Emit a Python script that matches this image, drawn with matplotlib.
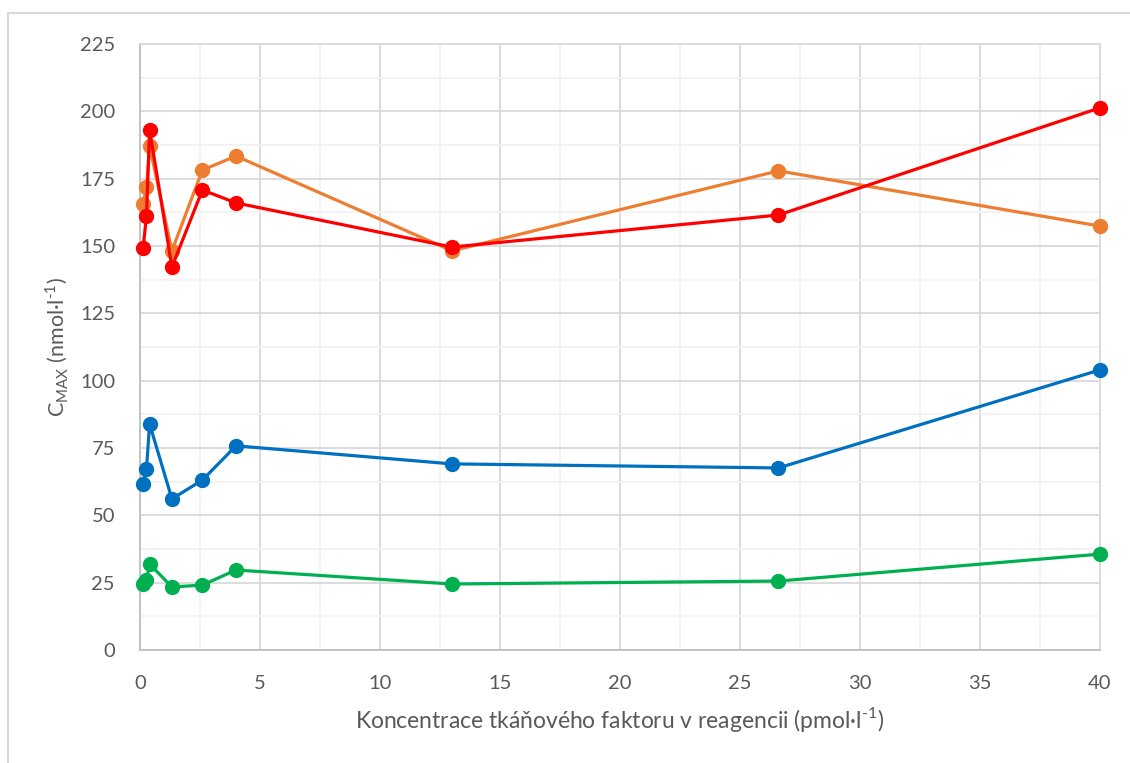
import matplotlib.pyplot as plt
from matplotlib.patches import Rectangle
from matplotlib.ticker import MultipleLocator

plt.rcParams['font.family'] = ['Lato', 'DejaVu Sans']
plt.rcParams['mathtext.fontset'] = 'custom'
plt.rcParams['mathtext.rm'] = 'Lato'

# Data
koncentrace = [0.13, 0.27, 0.4, 1.33, 2.6, 4, 13, 26.6, 40]

cervena = [149.3, 161.2, 193.1, 142.2, 170.8, 166.0, 149.6, 161.5, 201.3]
oranzova = [165.6, 171.9, 187.1, 148.2, 178.2, 183.4, 148.2, 177.9, 157.4]
modra = [61.6, 67.2, 83.9, 56.1, 63.1, 75.8, 69.1, 67.6, 104.0]
zelena = [24.5, 26.0, 31.9, 23.4, 24.1, 29.7, 24.5, 25.6, 35.6]

barvy = {'modra': '#0070C0', 'oranzova': '#ED7D31', 'zelena': '#00B050', 'cervena': '#FF0000'}
text_barva = '#595959'

fig = plt.figure(figsize=(11.3, 7.63), dpi=100)
ax = fig.add_axes([140 / 1130, 1 - 650 / 763, 960 / 1130, 606 / 763])

# Outer chart border
fig.patches.append(Rectangle((8 / 1130, -0.05), 1.2, (763 - 13) / 763 + 0.05,
                             transform=fig.transFigure, fill=False,
                             edgecolor='#d9d9d9', linewidth=1.5, zorder=0))

for data, klic in [(modra, 'modra'), (oranzova, 'oranzova'),
                   (zelena, 'zelena'), (cervena, 'cervena')]:
    ax.plot(koncentrace, data, color=barvy[klic], linewidth=2.3,
            marker='o', markersize=10, clip_on=False, zorder=3)

ax.set_xlim(0, 40)
ax.set_ylim(0, 225)
ax.xaxis.set_major_locator(MultipleLocator(5))
ax.xaxis.set_minor_locator(MultipleLocator(2.5))
ax.yaxis.set_major_locator(MultipleLocator(25))
ax.yaxis.set_minor_locator(MultipleLocator(12.5))

ax.grid(which='major', color='#d9d9d9', linewidth=1.3, zorder=0)
ax.grid(which='minor', color='#f2f2f2', linewidth=1.3, zorder=0)
ax.set_axisbelow(True)

for s in ax.spines.values():
    s.set_color('#d9d9d9')
    s.set_linewidth(1.3)
ax.spines['left'].set_color('#bfbfbf')
ax.spines['bottom'].set_color('#bfbfbf')

ax.tick_params(which='both', length=0, labelsize=14.5, colors=text_barva)
ax.tick_params(axis='y', pad=18)
ax.tick_params(axis='x', pad=18)

ax.set_ylabel(r'C$_{\mathregular{MAX}}$ (nmol·l$^{\text{-1}}$)',
              fontsize=15.5, color=text_barva, labelpad=6)
ax.set_xlabel(r'Koncentrace tkáňového faktoru v reagencii (pmol·l$^{\text{-1}}$)',
              fontsize=16.5, color=text_barva, labelpad=9)

fig.savefig('out.png', dpi=100)
